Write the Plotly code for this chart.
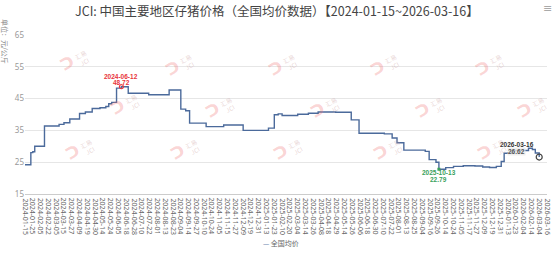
import plotly.graph_objects as go

# ---------------- data ----------------
tick_labels = [
    "2024-01-15", "2024-01-25", "2024-02-05", "2024-02-22", "2024-03-05", "2024-03-15",
    "2024-03-27", "2024-04-09", "2024-04-19", "2024-04-30", "2024-05-14", "2024-05-24",
    "2024-06-05", "2024-06-18", "2024-06-28", "2024-07-10", "2024-07-22", "2024-08-01",
    "2024-08-13", "2024-08-23", "2024-09-04", "2024-09-14", "2024-09-27", "2024-10-10",
    "2024-10-24", "2024-11-05", "2024-11-15", "2024-11-27", "2024-12-09", "2024-12-19",
    "2024-12-31", "2025-01-13", "2025-01-23", "2025-02-10", "2025-02-20", "2025-03-04",
    "2025-03-14", "2025-03-26", "2025-04-08", "2025-04-18", "2025-04-29", "2025-05-14",
    "2025-05-26", "2025-06-06", "2025-06-18", "2025-06-30", "2025-07-10", "2025-07-22",
    "2025-08-01", "2025-08-13", "2025-08-25", "2025-09-04", "2025-09-16", "2025-09-26",
    "2025-10-14", "2025-10-24", "2025-11-05", "2025-11-17", "2025-11-27", "2025-12-09",
    "2025-12-19", "2025-12-31", "2026-01-13", "2026-01-23", "2026-02-04", "2026-02-14",
    "2026-03-04", "2026-03-16",
]
points_per_label = 8  # category steps between shown labels

# price change points: category index where the price changes, and the new price (元/公斤)
step_idx = [0, 6, 8, 10, 20, 35, 40, 46, 56, 62, 69, 77, 83, 86, 89, 94, 99,
            106, 127, 148, 160, 165, 169, 186, 204, 224, 250, 256, 260, 264, 280,
            291, 301, 319, 335, 343, 369, 377, 382, 389, 411, 415, 422, 425, 432,
            440, 450, 462, 470, 477, 484, 489, 492, 496, 502, 517, 521, 524, 528]
step_val = [24.2, 28.0, 28.3, 30.0, 36.4, 36.9, 37.4, 38.6, 40.3, 40.8, 41.9, 42.1, 42.5, 43.4, 43.8, 48.3, 48.72,
            46.7, 46.2, 47.7, 41.7, 41.2, 37.3, 36.2, 36.7, 35.0, 35.7, 39.9, 40.2, 39.7, 40.1,
            40.4, 40.8, 40.7, 38.3, 34.1, 33.9, 32.6, 31.1, 28.8, 28.4, 25.8, 25.0, 22.79, 23.3,
            23.7, 23.9, 23.8, 23.5, 23.35, 23.7, 25.2, 27.8, 28.0, 28.7, 29.4, 29.0, 27.9, 26.62]

series_name = "全国均价"
peak_date = "2024-06-12"
trough_date = "2025-10-13"
last_date = "2026-03-16"

y_ticks = [15, 25, 35, 45, 55, 65]

# ---------------- layout ----------------
W, H = 553, 253
L, R, T, B = 25, 6, 35, 59
PW, PH = W - L - R, H - T - B
n_last = (len(tick_labels) - 1) * points_per_label


def px(xp):
    return (xp - L) / PW


def py(yp):
    return 1 - (yp - T) / PH


line_color = "#4b6a9b"
fig = go.Figure()
fig.add_trace(go.Scatter(
    x=step_idx, y=step_val, mode="lines", line=dict(color=line_color, width=1.4, shape="hv"),
    name=series_name, showlegend=False, hoverinfo="skip",
))

i_max = step_val.index(max(step_val))
i_min = step_val.index(min(step_val))
fig.add_trace(go.Scatter(
    x=[step_idx[i_max]], y=[step_val[i_max]], mode="markers",
    marker=dict(symbol="circle-open", size=4, color="#e8343a", line=dict(width=1.2)),
    showlegend=False, hoverinfo="skip"))
fig.add_trace(go.Scatter(
    x=[step_idx[i_min]], y=[step_val[i_min]], mode="markers",
    marker=dict(symbol="square", size=3, color="#3aa15b"),
    showlegend=False, hoverinfo="skip"))
fig.add_trace(go.Scatter(
    x=[step_idx[-1]], y=[step_val[-1]], mode="markers",
    marker=dict(symbol="circle-open", size=6, color="#444", line=dict(width=1.2)),
    showlegend=False, hoverinfo="skip"))

lab_font = "Liberation Sans"
C = dict(xanchor="center", yanchor="middle", showarrow=False)
ann = []
# peak labels
ann.append(dict(x=step_idx[i_max], y=step_val[i_max], text=f"<b>{peak_date}</b>",
                yshift=10.5, font=dict(size=6.5, color="#e8343a", family=lab_font), **C))
ann.append(dict(x=step_idx[i_max], y=step_val[i_max], text=f"<b>{step_val[i_max]:.2f}</b>",
                yshift=4.5, font=dict(size=6.5, color="#e8343a", family=lab_font), **C))
# trough labels
ann.append(dict(x=step_idx[i_min], y=step_val[i_min], text=f"<b>{trough_date}</b>",
                yshift=-3.5, font=dict(size=6.5, color="#3aa15b", family=lab_font), **C))
ann.append(dict(x=step_idx[i_min], y=step_val[i_min], text=f"<b>{step_val[i_min]:.2f}</b>",
                yshift=-10, font=dict(size=6.5, color="#3aa15b", family=lab_font), **C))
# last labels
ann.append(dict(x=step_idx[-1], y=step_val[-1], text=f"<b>{last_date}</b>",
                xshift=-22.5, yshift=12.2, font=dict(size=6.5, color="#333", family=lab_font), **C))
ann.append(dict(x=step_idx[-1], y=step_val[-1], text=f"<b>{step_val[-1]:.2f}</b>",
                xshift=-22.5, yshift=6.0, font=dict(size=6.5, color="#555", family=lab_font),
                bgcolor="rgba(235,235,235,0.8)", borderpad=0, **C))

# x tick labels (every label shown, rotated)
for i, lab in enumerate(tick_labels):
    ann.append(dict(x=i * points_per_label, y=0, xref="x", yref="paper", text=lab,
                    textangle=90, xanchor="center", yanchor="top", yshift=-2, showarrow=False,
                    font=dict(size=7, color="#666", family="Noto Sans")))

# watermark logos (faint)
wm = [(75, 62), (180, 66), (283, 66), (385, 66), (490, 66),
      (125, 105), (220, 108), (325, 108), (430, 108), (532, 108),
      (80, 150), (185, 150), (288, 150), (388, 150), (492, 150)]
for (xw, yw) in wm:
    ann.append(dict(xref="paper", yref="paper", x=px(xw - 8), y=py(yw + 2), text="<b>ᑐ</b>",
                    textangle=-30, font=dict(size=16, color="rgba(240,110,110,0.30)", family="DejaVu Sans"), **C))
    ann.append(dict(xref="paper", yref="paper", x=px(xw + 8), y=py(yw - 3), text="汇易<br>JCI",
                    textangle=-30, font=dict(size=6, color="rgba(200,150,150,0.40)", family="Noto Sans CJK SC"), **C))

# y axis name
ann.append(dict(xref="paper", yref="paper", x=px(5), y=py(41), text="单位：元/公斤",
                textangle=90, font=dict(size=7, color="#888", family="Noto Sans CJK SC"), **C))
# legend
ann.append(dict(xref="paper", yref="paper", x=px(281), y=py(243),
                text=f"<span style='color:{line_color}'>—</span> {series_name}",
                font=dict(size=7, color="#666", family="Noto Sans CJK SC"), **C))
# toolbox icon
ann.append(dict(xref="paper", yref="paper", x=px(547), y=py(8), text="≡",
                font=dict(size=11, color="#aaa", family="DejaVu Sans"), **C))

fig.update_layout(
    width=W, height=H, margin=dict(l=L, r=R, t=T, b=B),
    paper_bgcolor="white", plot_bgcolor="white",
    title=dict(text="JCI: 中国主要地区仔猪价格（全国均价数据）【2024-01-15~2026-03-16】",
               xref="container", yref="container", x=75 / W, xanchor="left", y=1 - 12 / H, yanchor="middle",
               font=dict(size=12.5, color="#444", family="Noto Sans CJK SC")),
    xaxis=dict(range=[0, n_last], tickmode="array",
               tickvals=[i * points_per_label for i in range(len(tick_labels))],
               showticklabels=False, showgrid=False, zeroline=False,
               showline=True, linecolor="#ccc", linewidth=1, ticks=""),
    yaxis=dict(range=[15, 65], tickvals=y_ticks, showgrid=True, gridcolor="#e6e6e6", gridwidth=1,
               zeroline=False, showline=False, ticks="",
               tickfont=dict(size=8, color="#999", family="Noto Sans")),
    annotations=ann,
    showlegend=False,
)

fig.write_html("out.html")
